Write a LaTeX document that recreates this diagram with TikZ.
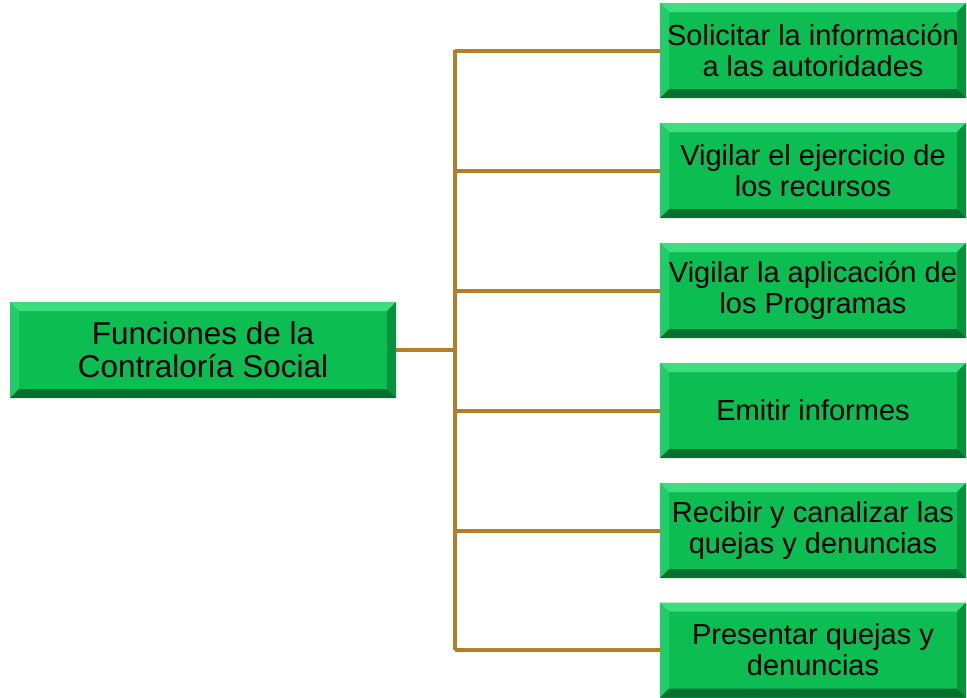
\documentclass[tikz,border=0pt]{standalone}
\usepackage{fontspec}
\setmainfont{Liberation Sans}
\usepackage{tikz}
\usetikzlibrary{calc}

\definecolor{boxgreen}{RGB}{12,189,82}
\definecolor{bevtop}{RGB}{60,222,128}
\definecolor{bevleft}{RGB}{34,204,104}
\definecolor{bevright}{RGB}{8,146,62}
\definecolor{bevbottom}{RGB}{6,112,48}
\definecolor{linkbrown}{RGB}{178,126,40}

\tikzset{
  bevelbox/.style={rectangle, fill=boxgreen, inner sep=0pt, align=center,
    font=\fontsize{29}{31}\selectfont,
    path picture={
      \coordinate (nw) at (path picture bounding box.north west);
      \coordinate (ne) at (path picture bounding box.north east);
      \coordinate (sw) at (path picture bounding box.south west);
      \coordinate (se) at (path picture bounding box.south east);
      \fill[bevtop] (nw) -- (ne) -- ([shift={(-9pt,-9pt)}]ne) -- ([shift={(9pt,-9pt)}]nw) -- cycle;
      \fill[bevleft] (nw) -- (sw) -- ([shift={(9pt,9pt)}]sw) -- ([shift={(9pt,-9pt)}]nw) -- cycle;
      \fill[bevright] (ne) -- (se) -- ([shift={(-9pt,9pt)}]se) -- ([shift={(-9pt,-9pt)}]ne) -- cycle;
      \fill[bevbottom] (sw) -- (se) -- ([shift={(-9pt,9pt)}]se) -- ([shift={(9pt,9pt)}]sw) -- cycle;
    }},
  mainbox/.style={bevelbox, minimum width=386pt, minimum height=96pt, font=\fontsize{31.5}{33}\selectfont},
  taskbox/.style={bevelbox, minimum width=306pt, minimum height=95pt},
  link/.style={draw=linkbrown, line width=4pt}
}

\begin{document}
\begin{tikzpicture}[x=1pt,y=-1pt]
  \useasboundingbox (0,0) rectangle (967,697);
  % connectors first, boxes on top
  \coordinate (fork) at (455,350);
  \coordinate (forktop) at (455,50);
  \coordinate (forkbot) at (455,650);
  \node[mainbox] (funciones) at (203,350) {Funciones de la\\Contraloría Social};
  \node[taskbox] (solicitar) at (813,50.5) {Solicitar la información\\a las autoridades};
  \node[taskbox] (ejercicio) at (813,170.5) {Vigilar el ejercicio de\\los recursos};
  \node[taskbox] (aplicacion) at (813,290.5) {Vigilar la aplicación de\\los Programas};
  \node[taskbox] (informes) at (813,410.5) {Emitir informes};
  \node[taskbox] (recibir) at (813,530.5) {Recibir y canalizar las\\quejas y denuncias};
  \node[taskbox] (presentar) at (813,650) {Presentar quejas y\\denuncias};
  \draw[link] (funciones.east) -- (fork);
  \draw[link] (forktop) -- (forkbot);
  \foreach \t in {solicitar,ejercicio,aplicacion,informes,recibir,presentar}
    \draw[link] (\t.west -| fork) -- (\t.west);
\end{tikzpicture}
\end{document}
